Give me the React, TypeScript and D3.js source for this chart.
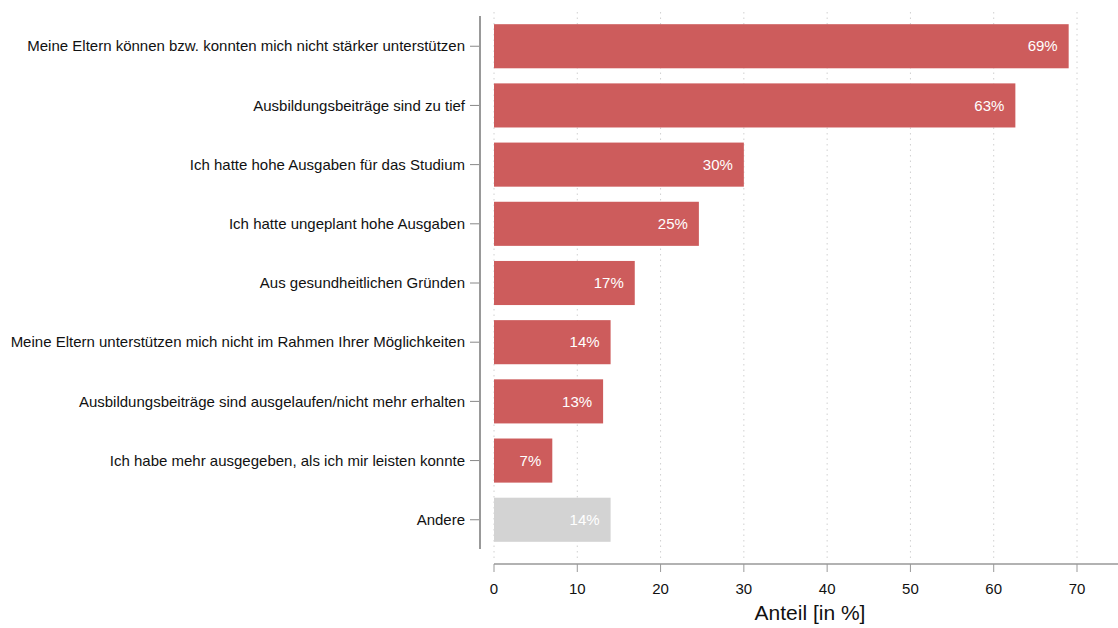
import React from "react";
import * as d3 from "d3";

const categories = [
  "Meine Eltern können bzw. konnten mich nicht stärker unterstützen",
  "Ausbildungsbeiträge sind zu tief",
  "Ich hatte hohe Ausgaben für das Studium",
  "Ich hatte ungeplant hohe Ausgaben",
  "Aus gesundheitlichen Gründen",
  "Meine Eltern unterstützen mich nicht im Rahmen Ihrer Möglichkeiten",
  "Ausbildungsbeiträge sind ausgelaufen/nicht mehr erhalten",
  "Ich habe mehr ausgegeben, als ich mir leisten konnte",
  "Andere",
];
const values = [69, 62.6, 30, 24.6, 16.9, 14, 13.1, 7, 14];
const valueLabels = ["69%", "63%", "30%", "25%", "17%", "14%", "13%", "7%", "14%"];
const xTicks = [0, 10, 20, 30, 40, 50, 60, 70];
const gridTicks = [0, 10, 20, 30, 40, 50, 60, 70];

const W = 1118;
const H = 628;
const FONT = "'Liberation Sans', Arial, sans-serif";

export default function App() {
  const x = d3.scaleLinear().domain([0, 70]).range([494, 1077]);
  const y = d3
    .scaleBand<string>()
    .domain(categories)
    .range([16.5, 549.5])
    .paddingInner(0.255)
    .paddingOuter(0.13);
  const bw = y.bandwidth();

  return (
    <svg
      width={W}
      height={H}
      style={{ position: "absolute", left: 0, top: 0, background: "#fff" }}
      fontFamily={FONT}
    >
      {gridTicks.map((t) => (
        <line
          key={"g" + t}
          x1={x(t)}
          x2={x(t)}
          y1={12}
          y2={560}
          stroke="#d0d0d0"
          strokeWidth={1}
          strokeDasharray="1.5,4"
        />
      ))}
      {categories.map((c, i) => (
        <g key={c}>
          <rect
            x={x(0)}
            y={y(c)!}
            width={x(values[i]) - x(0)}
            height={bw}
            fill={c === "Andere" ? "#d3d3d3" : "#cd5c5c"}
          />
          <text
            x={x(values[i]) - 11}
            y={y(c)! + bw / 2}
            dy="0.35em"
            textAnchor="end"
            fill="#fff"
            fontSize={15}
          >
            {valueLabels[i]}
          </text>
          <line
            x1={470}
            x2={479}
            y1={y(c)! + bw / 2}
            y2={y(c)! + bw / 2}
            stroke="#888"
            strokeWidth={1}
          />
          <text
            x={465}
            y={y(c)! + bw / 2}
            dy="0.35em"
            textAnchor="end"
            fill="#111"
            fontSize={15}
          >
            {c}
          </text>
        </g>
      ))}
      <line x1={480} x2={480} y1={16} y2={549} stroke="#999" strokeWidth={2} />
      <line x1={x(0)} x2={W} y1={564} y2={564} stroke="#999" strokeWidth={1.5} />
      {xTicks.map((t) => (
        <g key={"t" + t}>
          <line x1={x(t)} x2={x(t)} y1={564} y2={572} stroke="#999" strokeWidth={1} />
          <text
            x={x(t)}
            y={589}
            dy="0.35em"
            textAnchor="middle"
            fill="#111"
            fontSize={15}
          >
            {t}
          </text>
        </g>
      ))}
      <text x={810} y={613} dy="0.35em" textAnchor="middle" fill="#111" fontSize={21}>
        Anteil [in %]
      </text>
    </svg>
  );
}
